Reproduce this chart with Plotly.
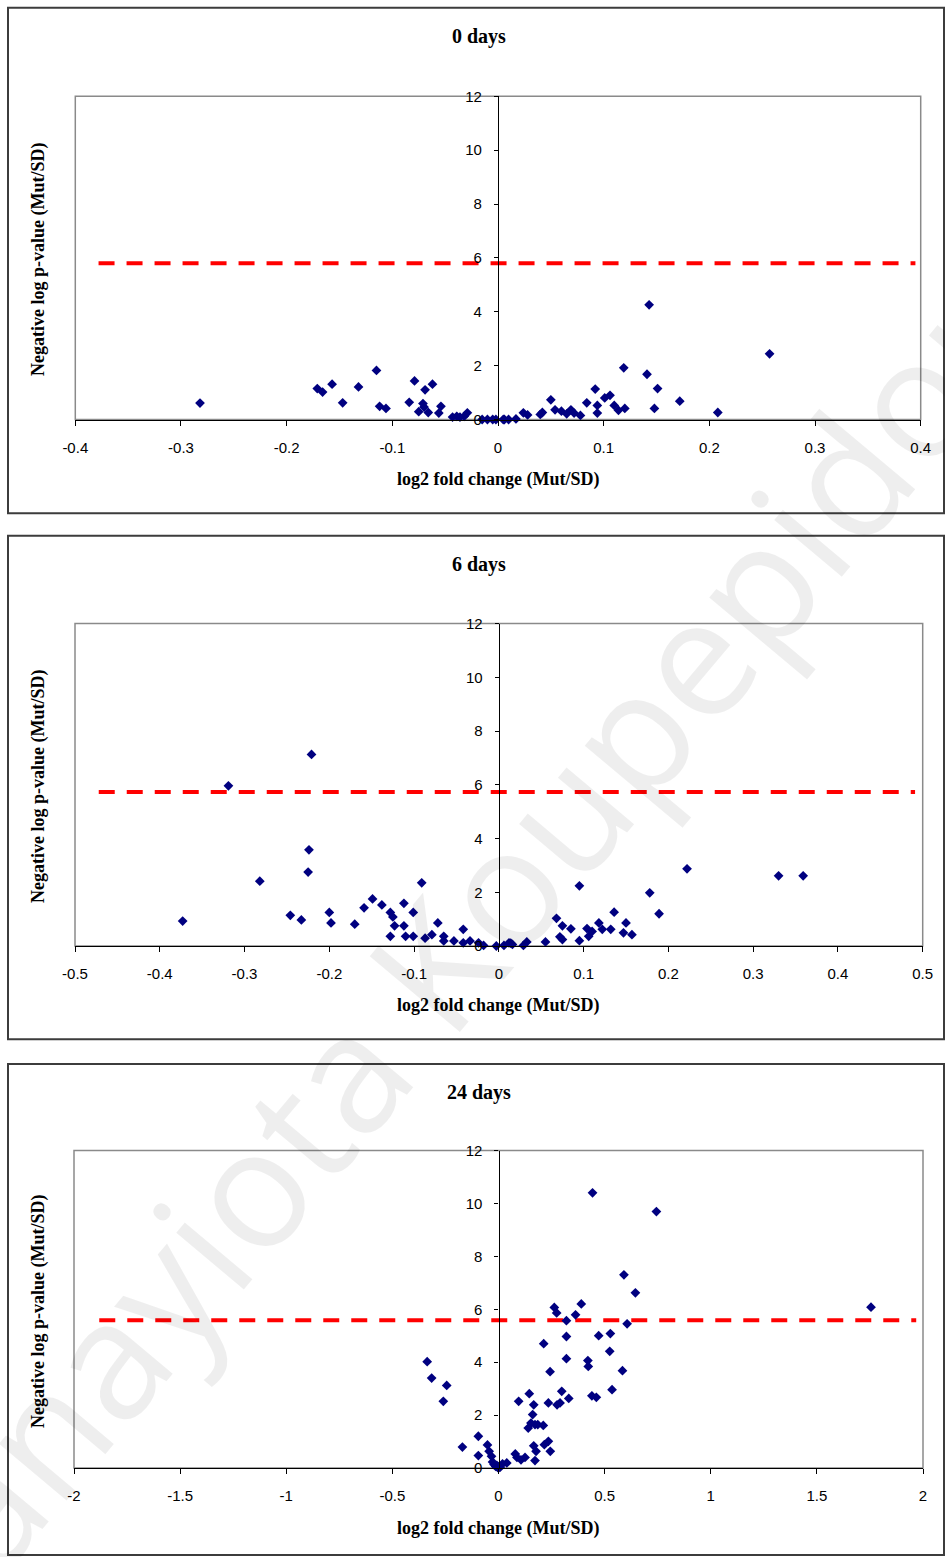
import plotly.graph_objects as go

W, H = 945, 1557

# ---------------- data ----------------
panel_titles = ["0 days", "6 days", "24 days"]
x_title = "log2 fold change (Mut/SD)"
y_title = "Negative log p-value (Mut/SD)"
watermark = "Panayiota Koupepidou"

x_day0 = [-0.282, -0.171, -0.166, -0.157, -0.147, -0.132, -0.115, -0.112, -0.106, -0.084,
          -0.079, -0.075, -0.071, -0.070, -0.069, -0.066, -0.062, -0.056, -0.054, -0.043,
          -0.039, -0.036, -0.032, -0.029, -0.015, -0.010, -0.005, -0.002, 0.005, 0.006,
          0.010, 0.017, 0.024, 0.028, 0.040, 0.042, 0.050, 0.054, 0.060, 0.065,
          0.069, 0.072, 0.078, 0.084, 0.092, 0.094, 0.094, 0.101, 0.106, 0.110,
          0.114, 0.119, 0.120, 0.141, 0.143, 0.148, 0.151, 0.172, 0.208, 0.257]
y_day0 = [0.61, 1.15, 1.02, 1.31, 0.62, 1.21, 1.82, 0.49, 0.41, 0.64,
          1.43, 0.29, 0.59, 0.46, 1.10, 0.26, 1.31, 0.24, 0.49, 0.09,
          0.12, 0.09, 0.12, 0.25, 0.00, 0.00, 0.00, 0.00, 0.00, 0.00,
          0.00, 0.02, 0.25, 0.17, 0.19, 0.26, 0.73, 0.36, 0.31, 0.21,
          0.36, 0.24, 0.15, 0.62, 1.13, 0.52, 0.24, 0.80, 0.90, 0.52,
          0.34, 1.92, 0.41, 1.68, 4.26, 0.41, 1.15, 0.68, 0.26, 2.44]

x_day6 = [-0.373, -0.319, -0.221, -0.282, -0.224, -0.225, -0.246, -0.233, -0.200, -0.198,
          -0.170, -0.159, -0.149, -0.138, -0.128, -0.125, -0.123, -0.128, -0.112, -0.112,
          -0.110, -0.101, -0.101, -0.091, -0.087, -0.079, -0.072, -0.065, -0.065, -0.053,
          -0.042, -0.042, -0.034, -0.024, -0.018, -0.003, 0.006, 0.012, 0.014, 0.016,
          0.029, 0.033, 0.055, 0.068, 0.072, 0.075, 0.075, 0.085, 0.095, 0.095,
          0.104, 0.106, 0.110, 0.118, 0.122, 0.132, 0.136, 0.147, 0.150, 0.157,
          0.178, 0.189, 0.222, 0.330, 0.359]
y_day6 = [0.93, 5.96, 7.13, 2.41, 3.58, 2.75, 1.14, 0.97, 1.25, 0.86,
          0.81, 1.42, 1.75, 1.53, 1.25, 1.08, 0.75, 0.36, 1.59, 0.75,
          0.36, 1.25, 0.36, 2.35, 0.29, 0.42, 0.86, 0.36, 0.19, 0.19,
          0.62, 0.12, 0.19, 0.12, 0.02, 0.00, 0.02, 0.12, 0.11, 0.06,
          0.02, 0.15, 0.15, 1.03, 0.34, 0.75, 0.24, 0.64, 2.24, 0.20,
          0.65, 0.36, 0.54, 0.86, 0.62, 0.62, 1.26, 0.49, 0.86, 0.42,
          1.98, 1.20, 2.87, 2.61, 2.61]

x_day24 = [-0.336, -0.315, -0.244, -0.260, -0.170, -0.095, -0.095, -0.052, -0.044, -0.033,
           -0.028, -0.021, -0.013, -0.008, -0.005, 0.000, 0.002, 0.008, 0.019, 0.039,
           0.079, 0.087, 0.106, 0.125, 0.095, 0.145, 0.140, 0.153, 0.161, 0.166,
           0.172, 0.185, 0.211, 0.166, 0.172, 0.177, 0.213, 0.216, 0.235, 0.244,
           0.235, 0.243, 0.276, 0.290, 0.298, 0.263, 0.274, 0.320, 0.320, 0.320,
           0.331, 0.363, 0.390, 0.421, 0.423, 0.443, 0.440, 0.461, 0.472, 0.524,
           0.527, 0.535, 0.584, 0.591, 0.606, 0.645, 0.744, 1.755]
y_day24 = [4.02, 3.40, 3.12, 2.52, 0.79, 1.20, 0.47, 0.87, 0.63, 0.44,
           0.23, 0.13, 0.06, 0.10, 0.03, 0.00, 0.05, 0.03, 0.16, 0.19,
           0.53, 0.40, 0.31, 0.40, 2.52, 2.81, 1.51, 1.70, 2.02, 2.39,
           1.64, 1.64, 1.61, 0.84, 0.28, 0.63, 4.70, 0.88, 1.01, 0.63,
           2.46, 3.64, 2.39, 2.46, 2.90, 6.07, 5.86, 5.57, 4.97, 4.13,
           2.63, 5.79, 6.20, 4.06, 3.84, 10.40, 2.73, 2.67, 5.00, 4.41,
           5.08, 2.96, 3.68, 7.30, 5.45, 6.62, 9.69, 6.08]

threshold_y = [5.80, 5.73, 5.58]
threshold_x = [[-0.378, 0.395], [-0.472, 0.491], [-1.881, 1.968]]

x_ranges = [[-0.4, 0.4], [-0.5, 0.5], [-2, 2]]
x_tickvals = [[-0.4, -0.3, -0.2, -0.1, 0, 0.1, 0.2, 0.3, 0.4],
              [-0.5, -0.4, -0.3, -0.2, -0.1, 0, 0.1, 0.2, 0.3, 0.4, 0.5],
              [-2, -1.5, -1, -0.5, 0, 0.5, 1, 1.5, 2]]
x_ticktext = [["-0.4", "-0.3", "-0.2", "-0.1", "0", "0.1", "0.2", "0.3", "0.4"],
              ["-0.5", "-0.4", "-0.3", "-0.2", "-0.1", "0", "0.1", "0.2", "0.3", "0.4", "0.5"],
              ["-2", "-1.5", "-1", "-0.5", "0", "0.5", "1", "1.5", "2"]]
y_tickvals = [0, 2, 4, 6, 8, 10, 12]
y_ticktext = ["0", "2", "4", "6", "8", "10", "12"]

xs = [x_day0, x_day6, x_day24]
ys = [y_day0, y_day6, y_day24]

# ---------------- layout geometry (pixels) ----------------
plot_px = [  # left, right, top, bottom
    (75.3, 920.7, 96.3, 419.5),
    (75.0, 922.7, 623.5, 946.0),
    (74.0, 923.0, 1150.5, 1468.0),
]
box_px = [(8, 944, 7.7, 513.3), (8, 944, 535.7, 1039.3), (8, 944, 1064, 1555)]
title_y_px = [36.7, 564, 1092]
xtitle_y_px = [480, 1006, 1528]
ytitle_y_px = [260, 787, 1312]

def px(x):
    return x / W

def py(y):
    return 1 - y / H

tick_font = dict(family="Liberation Sans, Arial", size=15, color="#000000")
serif_bold = dict(family="Liberation Serif, Times New Roman", size=18, color="#000000", weight="bold")

fig = go.Figure()
shapes = []
annotations = []

for i in range(3):
    sfx = "" if i == 0 else str(i + 1)
    xa, ya = "x" + sfx, "y" + sfx
    l, r, t, b = plot_px[i]
    xdom = [px(l), px(r)]
    ydom = [py(b), py(t)]

    fig.add_trace(go.Scatter(
        x=threshold_x[i], y=[threshold_y[i], threshold_y[i]], mode="lines",
        line=dict(color="#FF0000", width=4, dash="16px,12px"),
        xaxis=xa, yaxis=ya, showlegend=False, hoverinfo="skip", cliponaxis=False))
    fig.add_trace(go.Scatter(
        x=xs[i], y=ys[i], mode="markers",
        marker=dict(symbol="diamond", size=7.5, color="#000080", line=dict(width=0)),
        xaxis=xa, yaxis=ya, showlegend=False, cliponaxis=False))

    fig.layout["xaxis" + sfx] = dict(
        domain=xdom, anchor=ya, range=x_ranges[i], automargin=False,
        tickvals=x_tickvals[i], ticktext=x_ticktext[i],
        showline=True, linecolor="#000000", linewidth=1.3,
        ticks="outside", ticklen=5, tickwidth=1.2, tickcolor="#000000",
        ticklabelstandoff=9, tickfont=tick_font,
        showgrid=False, zeroline=False, fixedrange=True)
    fig.layout["yaxis" + sfx] = dict(
        domain=ydom, anchor="free", automargin=False,
        position=(xdom[0] + xdom[1]) / 2, range=[0, 12],
        tickvals=y_tickvals, ticktext=y_ticktext,
        showline=True, linecolor="#000000", linewidth=1.3,
        ticks="outside", ticklen=4, tickwidth=1.2, tickcolor="#000000",
        ticklabelstandoff=9, tickfont=tick_font,
        showgrid=False, zeroline=False, fixedrange=True)

    # gray plot-area frame
    shapes.append(dict(type="rect", xref="paper", yref="paper",
                       x0=xdom[0], x1=xdom[1], y0=ydom[0], y1=ydom[1],
                       line=dict(color="#8a8a8a", width=1.5), layer="below"))
    # outer chart border
    bl, br, bt, bb = box_px[i]
    shapes.append(dict(type="rect", xref="paper", yref="paper",
                       x0=px(bl), x1=px(br), y0=py(bb), y1=py(bt),
                       line=dict(color="#3c3c3c", width=2), layer="below"))

    annotations.append(dict(text=panel_titles[i], xref="paper", yref="paper",
                            x=px(479), y=py(title_y_px[i]), showarrow=False,
                            xanchor="center", yanchor="middle",
                            font=dict(serif_bold, size=20)))
    annotations.append(dict(text=x_title, xref="paper", yref="paper",
                            x=(xdom[0] + xdom[1]) / 2, y=py(xtitle_y_px[i]), showarrow=False,
                            xanchor="center", yanchor="middle", font=serif_bold))
    annotations.append(dict(text=y_title, xref="paper", yref="paper",
                            x=px(38), y=py(ytitle_y_px[i]), showarrow=False, textangle=-90,
                            xanchor="center", yanchor="middle", font=serif_bold))

# faint diagonal watermark
annotations.append(dict(text=watermark, xref="paper", yref="paper",
                        x=px(445), y=py(950), showarrow=False, textangle=-50,
                        xanchor="center", yanchor="middle",
                        font=dict(family="Open Sans, Arial", size=165,
                                  color="rgba(0,0,0,0.065)")))

fig.update_layout(
    template="none",
    width=W, height=H, autosize=False,
    margin=dict(l=0, r=0, t=0, b=0, pad=0, autoexpand=False),
    paper_bgcolor="#ffffff", plot_bgcolor="rgba(0,0,0,0)",
    shapes=shapes, annotations=annotations, showlegend=False,
)

fig.write_html("out.html")
